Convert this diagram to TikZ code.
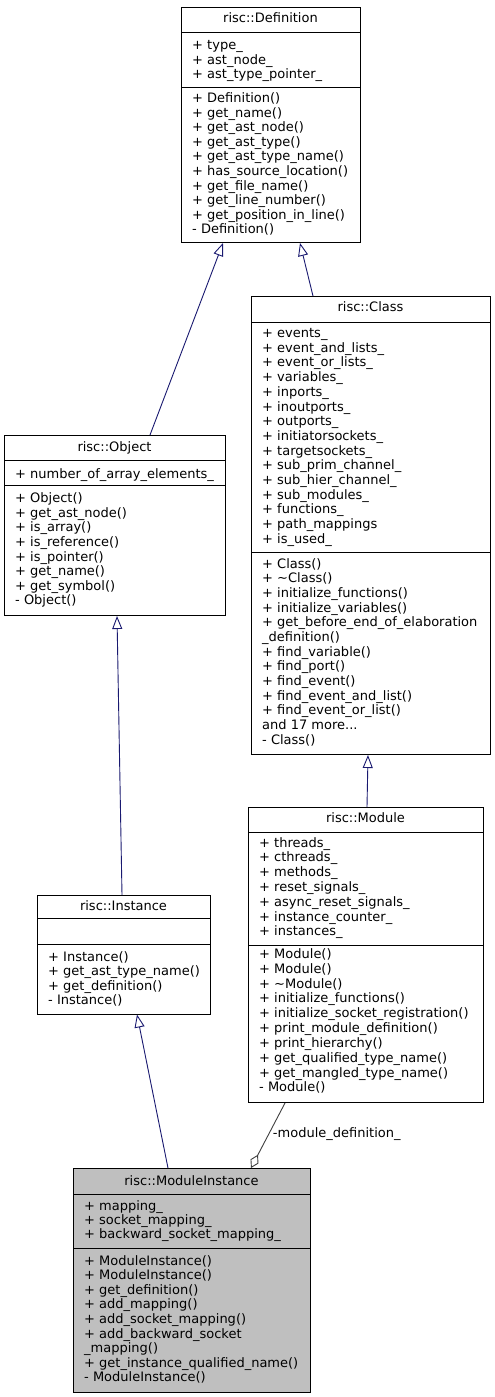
\documentclass[tikz,border=0pt]{standalone}
\usepackage{fontspec}
\setmainfont{DejaVu Sans}
\usetikzlibrary{arrows.meta}
\definecolor{edgeblue}{HTML}{191970}
\definecolor{agggray}{HTML}{404040}
\definecolor{hlfill}{HTML}{BFBFBF}
\tikzset{
  classbox/.style={draw=black, line width=1pt, inner sep=0pt, anchor=north west},
  seprule/.style={draw=black, line width=1pt},
  txt/.style={inner sep=0pt, font=\fontsize{13}{14.6}\selectfont},
  inh/.style={draw=edgeblue, line width=0.9pt, -{Triangle[open, length=13pt, width=10pt]}},
  agg/.style={draw=agggray, line width=0.9pt, -{Diamond[open, length=15pt, width=9pt]}},
}
\newcommand\mydots{...}
\newcommand\txtlines[4]{%
  \foreach \s [count=\i from 0] in {#4} {\node[txt,anchor=base west] at (#1,{#2+\i*#3}) {\s};}}
\begin{document}
\begin{tikzpicture}[x=1pt,y=-1pt]
\useasboundingbox (0,0) rectangle (495,1397);
\fill[white] (0,0) rectangle (495,1397);

% ---------- risc::Definition ----------
\node[classbox, minimum width=179pt, minimum height=235pt] (def) at (181,7) {};
\draw[seprule] (181,33) -- (360,33);
\draw[seprule] (181,87) -- (360,87);
\node[txt, anchor=base] at (270.5,22.5) {risc::Definition};
\txtlines{192}{49.5}{14.6}{+ type\_,+ ast\_node\_,+ ast\_type\_pointer\_}
\txtlines{192}{102.7}{14.55}{+ Definition(),+ get\_name(),+ get\_ast\_node(),+ get\_ast\_type(),+ get\_ast\_type\_name(),+ has\_source\_location(),+ get\_file\_name(),+ get\_line\_number(),+ get\_position\_in\_line(),- Definition()}

% ---------- risc::Class ----------
\node[classbox, minimum width=239pt, minimum height=458pt] (cls) at (251,296) {};
\draw[seprule] (251,322) -- (490,322);
\draw[seprule] (251,552) -- (490,552);
\node[txt, anchor=base] at (370.5,311.5) {risc::Class};
\txtlines{262}{337.5}{14.7}{+ events\_,+ event\_and\_lists\_,+ event\_or\_lists\_,+ variables\_,+ inports\_,+ inoutports\_,+ outports\_,+ initiatorsockets\_,+ targetsockets\_,+ sub\_prim\_channel\_,+ sub\_hier\_channel\_,+ sub\_modules\_,+ functions\_,+ path\_mappings,+ is\_used\_}
\txtlines{262}{568}{14.67}{+ Class(),+ \textasciitilde Class(),+ initialize\_functions(),+ initialize\_variables(),+ get\_before\_end\_of\_elaboration,\_definition(),+ find\_variable(),+ find\_port(),+ find\_event(),+ find\_event\_and\_list(),+ find\_event\_or\_list(),and 17 more\mydots,- Class()}

% ---------- risc::Object ----------
\node[classbox, minimum width=221pt, minimum height=180pt] (obj) at (4,435) {};
\draw[seprule] (4,460) -- (225,460);
\draw[seprule] (4,485) -- (225,485);
\node[txt, anchor=base] at (114.5,451.5) {risc::Object};
\txtlines{15}{478}{14.6}{+ number\_of\_array\_elements\_}
\txtlines{15}{502.7}{14.6}{+ Object(),+ get\_ast\_node(),+ is\_array(),+ is\_reference(),+ is\_pointer(),+ get\_name(),+ get\_symbol(),- Object()}

% ---------- risc::Instance ----------
\node[classbox, minimum width=173pt, minimum height=118.5pt] (ins) at (37,895) {};
\draw[seprule] (37,918.5) -- (210,918.5);
\draw[seprule] (37,944) -- (210,944);
\node[txt, anchor=base] at (123.5,910) {risc::Instance};
\txtlines{48}{961}{14.6}{+ Instance(),+ get\_ast\_type\_name(),+ get\_definition(),- Instance()}

% ---------- risc::Module ----------
\node[classbox, minimum width=235pt, minimum height=295pt] (mod) at (248,807) {};
\draw[seprule] (248,832.5) -- (483,832.5);
\draw[seprule] (248,945) -- (483,945);
\node[txt, anchor=base] at (365.5,822.5) {risc::Module};
\txtlines{259}{847}{14.8}{+ threads\_,+ cthreads\_,+ methods\_,+ reset\_signals\_,+ async\_reset\_signals\_,+ instance\_counter\_,+ instances\_}
\txtlines{259}{958.3}{14.85}{+ Module(),+ Module(),+ \textasciitilde Module(),+ initialize\_functions(),+ initialize\_socket\_registration(),+ print\_module\_definition(),+ print\_hierarchy(),+ get\_qualified\_type\_name(),+ get\_mangled\_type\_name(),- Module()}

% ---------- risc::ModuleInstance ----------
\node[classbox, fill=hlfill, minimum width=237pt, minimum height=223.5pt] (mi) at (73,1168) {};
\draw[seprule] (73,1194) -- (310,1194);
\draw[seprule] (73,1248.3) -- (310,1248.3);
\node[txt, anchor=base] at (191.5,1185) {risc::ModuleInstance};
\txtlines{84}{1210}{14.2}{+ mapping\_,+ socket\_mapping\_,+ backward\_socket\_mapping\_}
\txtlines{84}{1265}{14.6}{+ ModuleInstance(),+ ModuleInstance(),+ get\_definition(),+ add\_mapping(),+ add\_socket\_mapping(),+ add\_backward\_socket,\_mapping(),+ get\_instance\_qualified\_name(),- ModuleInstance()}

% ---------- connectors ----------
\draw[inh] ([xshift=146pt]obj.north west) -- ([xshift=42pt]def.south west);
\draw[inh] ([xshift=62pt]cls.north west) -- ([xshift=119pt]def.south west);
\draw[inh] ([xshift=119pt]mod.north west) -- ([xshift=117pt]cls.south west);
\draw[inh] ([xshift=85pt]ins.north west) -- ([xshift=113pt]obj.south west);
\draw[inh] ([xshift=95pt]mi.north west) -- ([xshift=100pt]ins.south west);
\draw[agg] ([xshift=37pt]mod.south west) -- ([xshift=178pt]mi.north west)
  node[txt, pos=0.5, anchor=base west, xshift=4.5pt, yshift=-2pt] (agglabel) {-module\_definition\_};
\end{tikzpicture}
\end{document}
